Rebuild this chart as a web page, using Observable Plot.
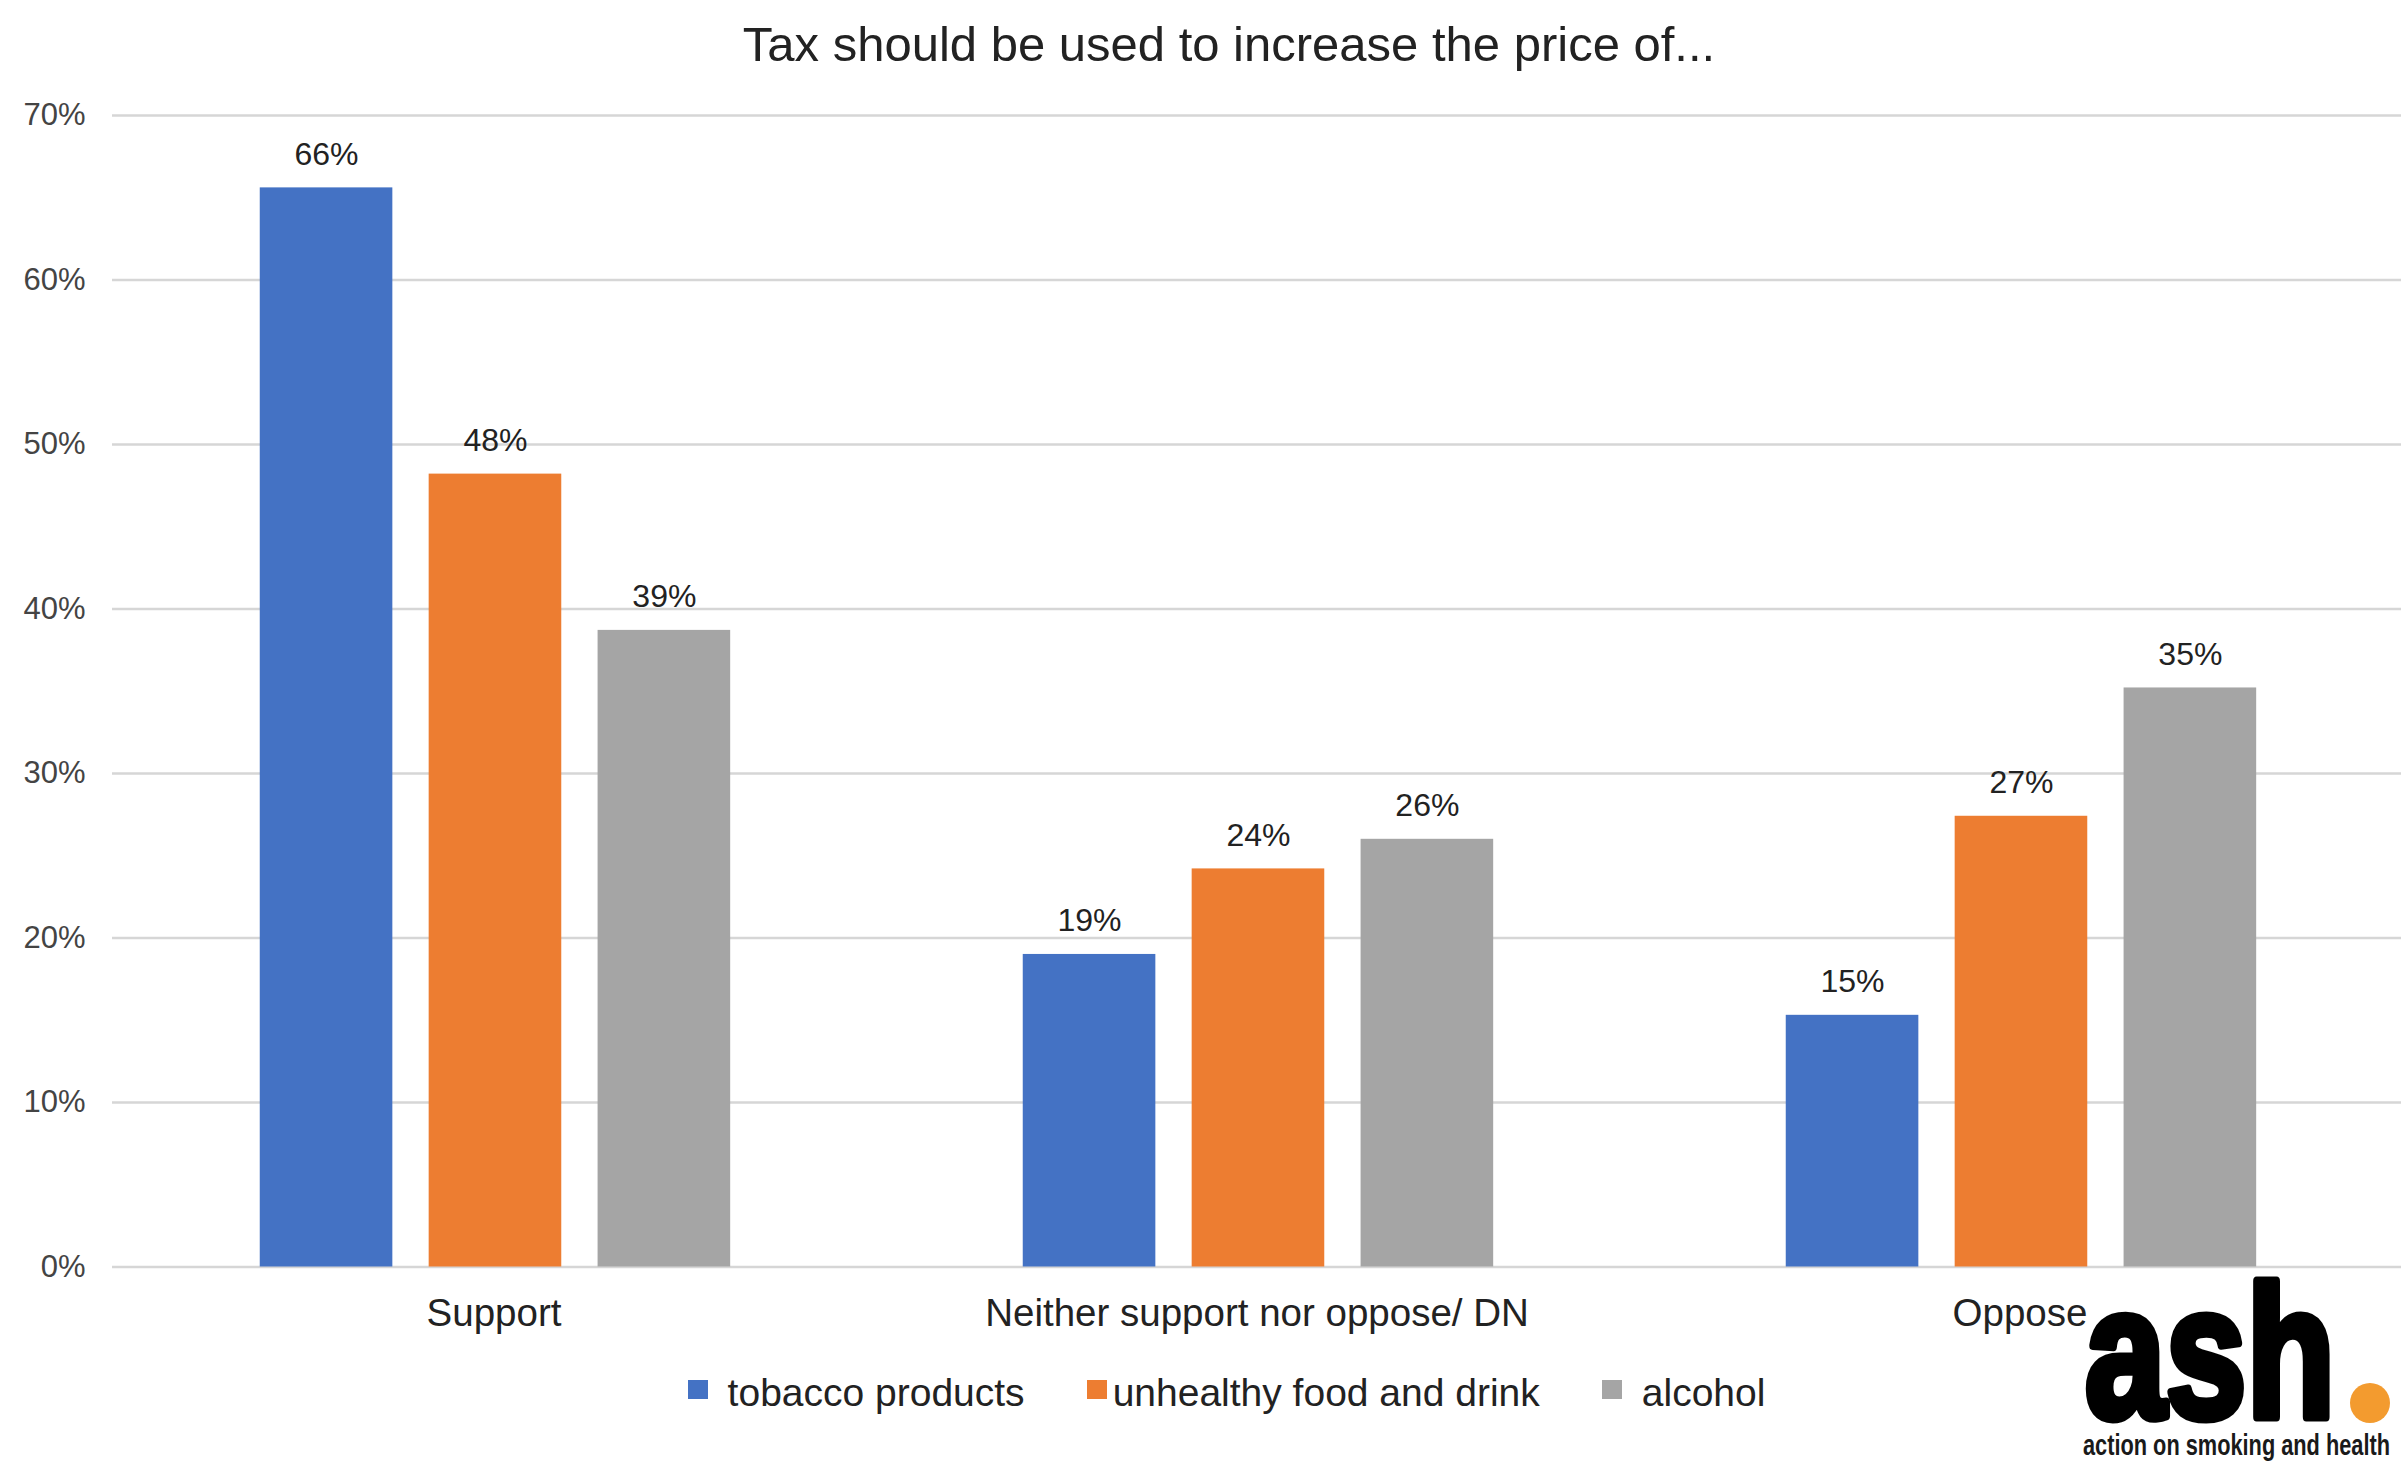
<!DOCTYPE html>
<html>
<head>
<meta charset="utf-8">
<script src="https://cdn.jsdelivr.net/npm/d3@7"></script>
<script src="https://cdn.jsdelivr.net/npm/@observablehq/plot@0.6"></script>
<style>
  html, body { margin: 0; padding: 0; background: #ffffff; }
  body { width: 2401px; height: 1464px; overflow: hidden; position: relative;
         font-family: "Liberation Sans", Arial, sans-serif; }
  #title { height: 88px; line-height: 88px; font-size: 49px; color: #222;
           text-align: center; padding-left: 57px; white-space: nowrap; }
  #chart { height: 1258px; }
  #legend { height: 94px; display: flex; justify-content: center; align-items: center;
            padding-left: 52px; font-size: 39px; color: #222; gap: 62px; }
  #legend .item { display: flex; align-items: center; line-height: 94px; white-space: nowrap; }
  #legend .sw { display: inline-block; width: 20px; height: 19px; position: relative; top: -4px; }
  #logo { position: absolute; left: 0; top: 0; pointer-events: none; }
</style>
</head>
<body>
<div id="title"></div>
<div id="chart"></div>
<div id="legend"></div>
<svg id="logo" width="2401" height="1464" viewBox="0 0 2401 1464">
  <text x="2085" y="1417" font-size="188" font-weight="bold" textLength="250" lengthAdjust="spacingAndGlyphs"
        fill="#000" stroke="#000" stroke-width="9" stroke-linejoin="round"
        font-family="'Liberation Sans Narrow', 'Liberation Sans', sans-serif">ash</text>
  <circle cx="2370" cy="1403" r="20" fill="#F39B2F"></circle>
  <text x="2083" y="1455" font-size="29" font-weight="bold" textLength="307" lengthAdjust="spacingAndGlyphs"
        fill="#1a1a1a" font-family="'Liberation Sans Narrow', 'Liberation Sans', sans-serif">action on smoking and health</text>
</svg>
<script>
// ---- data ----
const titleText = "Tax should be used to increase the price of...";
const categories = ["Support", "Neither support nor oppose/ DN", "Oppose"];
const series = ["tobacco products", "unhealthy food and drink", "alcohol"];
const tobacco = [65.6, 19.0, 15.3];
const unhealthyFood = [48.2, 24.2, 27.4];
const alcohol = [38.7, 26.0, 35.2];
const yTicks = [0, 10, 20, 30, 40, 50, 60, 70];

// ---- styles ----
const colors = ["#4472C4", "#ED7D31", "#A5A5A5"];
const swatchGaps = [20, 6, 20];

const values = [tobacco, unhealthyFood, alcohol];
const data = categories.flatMap((c, i) =>
  series.map((s, j) => ({category: c, series: s, value: values[j][i]})));

document.getElementById("title").textContent = titleText;

const chart = Plot.plot({
  width: 2401,
  height: 1258,
  marginTop: 27,
  marginBottom: 79.5,
  marginLeft: 111,
  marginRight: 0,
  style: {fontFamily: '"Liberation Sans", Arial, sans-serif', background: "transparent", overflow: "visible"},
  fx: {domain: categories, padding: 0, label: null},
  x: {domain: series, paddingInner: 0.215, paddingOuter: 0.866, align: 0.505, round: false, axis: null},
  y: {domain: [0, 70], label: null},
  color: {domain: series, range: colors},
  marks: [
    Plot.ruleY(yTicks, {stroke: "#d6d6d6", strokeWidth: 2.5}),
    Plot.axisY(yTicks, {tickFormat: d => d + "%", tickSize: 0, tickPadding: 27, fontSize: 31, fill: "#444", label: null}),
    Plot.axisFx({anchor: "bottom", tickSize: 0, tickPadding: 31.5, fontSize: 38.5, fill: "#222", label: null}),
    Plot.barY(data, {fx: "category", x: "series", y: "value", fill: "series"}),
    Plot.text(data, {fx: "category", x: "series", y: "value",
      text: d => Math.round(d.value) + "%", dy: -33.5, fontSize: 32, fill: "#222"})
  ]
});
document.getElementById("chart").appendChild(chart);

const legend = document.getElementById("legend");
series.forEach((s, i) => {
  const item = document.createElement("div");
  item.className = "item";
  const sw = document.createElement("span");
  sw.className = "sw";
  sw.style.background = colors[i];
  sw.style.marginRight = swatchGaps[i] + "px";
  const label = document.createElement("span");
  label.textContent = s;
  item.appendChild(sw);
  item.appendChild(label);
  legend.appendChild(item);
});
</script>
</body>
</html>
